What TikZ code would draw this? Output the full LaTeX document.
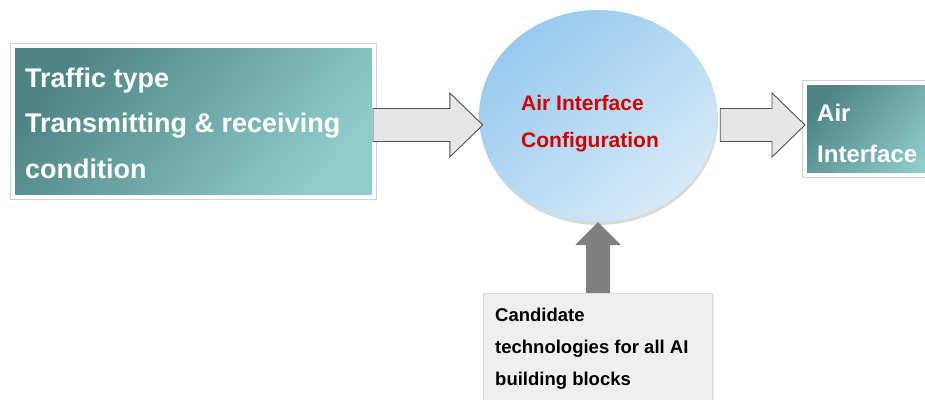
\documentclass[tikz,border=0pt]{standalone}
\usepackage{fontspec}
\setmainfont{Liberation Sans}
\usetikzlibrary{shadows,calc,shapes.geometric}
\definecolor{tealdark}{HTML}{4F8484}
\definecolor{teallight}{HTML}{90CCCC}
\definecolor{bluel}{HTML}{98C9EE}
\definecolor{bluer}{HTML}{D6EAF8}
\definecolor{arrowfill}{HTML}{E6E6E6}
\definecolor{arrowedge}{HTML}{505050}
\definecolor{upgray}{HTML}{7F7F7F}
\definecolor{boxgray}{HTML}{EFEFEF}
\definecolor{boxedge}{HTML}{DADADA}
\definecolor{cfgred}{HTML}{CC0000}
\begin{document}
\begin{tikzpicture}[x=1pt,y=-1pt,
  tealbox/.style={rectangle, draw=white, line width=4pt,
    top color=tealdark, bottom color=teallight, shading angle=50,
    preaction={draw=black!18, line width=6pt},
    drop shadow={shadow xshift=1pt, shadow yshift=-2pt, opacity=0.12}, inner sep=0},
  cfgell/.style={ellipse, top color=bluel, bottom color=bluer, shading angle=40, inner sep=0,
    drop shadow={shadow xshift=1pt, shadow yshift=-3pt, opacity=0.3}},
  graybox/.style={rectangle, draw=boxedge, fill=boxgray, inner sep=0,
    drop shadow={shadow xshift=1pt, shadow yshift=-1.5pt, opacity=0.12}},
  blockarrow/.style={draw=arrowedge, line width=0.9pt, fill=arrowfill, line join=miter},
  uparrow/.style={fill=upgray},
  txt/.style={anchor=base west, inner sep=0, font=\bfseries\fontsize{#1}{#1}\selectfont}
]
\useasboundingbox (0,0) rectangle (925,399);
\clip (0,0) rectangle (925,399);

% nodes
\node[tealbox, minimum width=361pt, minimum height=151pt] (lbox) at (193.5,121.5) {};
\node[cfgell, minimum width=238pt, minimum height=212pt] (ell) at (598,116) {};
\node[tealbox, minimum width=140pt, minimum height=92pt] (rbox) at (875,129) {};
\node[graybox, minimum width=229pt, minimum height=117pt] (bbox) at (598,351.5) {};

% connectors
\coordinate (t1) at ($(ell.west)+(4,9)$);
\draw[blockarrow] ($(lbox.east |- t1)+(-3,-16.5)$) -- ($(t1)+(-33,-16.5)$) -- ($(t1)+(-33,-32)$)
  -- (t1) -- ($(t1)+(-33,32)$) -- ($(t1)+(-33,16.5)$) -- ($(lbox.east |- t1)+(-3,16.5)$) -- cycle;
\coordinate (t2) at ($(rbox.west)+(2,-4)$);
\draw[blockarrow] ($(ell.east |- t2)+(3,-16.5)$) -- ($(t2)+(-33,-16.5)$) -- ($(t2)+(-33,-32)$)
  -- (t2) -- ($(t2)+(-33,32)$) -- ($(t2)+(-33,16.5)$) -- ($(ell.east |- t2)+(3,16.5)$) -- cycle;
\fill[uparrow] ($(bbox.north)+(-12,0)$) -- ($(ell.south)+(-12,23)$) -- ($(ell.south)+(-23,23)$)
  -- (ell.south) -- ($(ell.south)+(23,23)$) -- ($(ell.south)+(12,23)$) -- ($(bbox.north)+(12,0)$) -- cycle;

% texts
\node[txt=27, white] (l1) at (25,87) {Traffic type};
\node[txt=27, white] (l2) at (25,132) {Transmitting \& receiving};
\node[txt=27, white] (l3) at (25,178) {condition};
\node[txt=21, cfgred] (e1) at (521,110) {Air Interface};
\node[txt=21, cfgred] (e2) at (521,147) {Configuration};
\node[txt=24, white] (r1) at (817,121) {Air};
\node[txt=24, white] (r2) at (817,162) {Interface};
\node[txt=18.5, black] (b1) at (495,321) {Candidate};
\node[txt=18.5, black] (b2) at (495,353) {technologies for all AI};
\node[txt=18.5, black] (b3) at (495,385) {building blocks};
\end{tikzpicture}
\end{document}
